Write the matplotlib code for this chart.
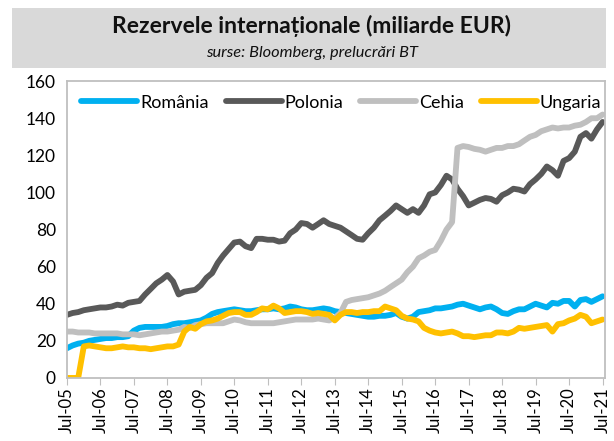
import matplotlib
matplotlib.use('Agg')
import matplotlib.pyplot as plt
import matplotlib.dates as mdates
from matplotlib.patches import Rectangle
import pandas as pd

plt.rcParams['font.family'] = ['Lato', 'DejaVu Sans']

# bimonthly observations, Jul-05 .. Jul-21 (miliarde EUR)
dates = pd.date_range('2005-07-01', periods=97, freq='2MS')

romania = [16, 17.5, 18.5, 19, 20, 20.5,
           21, 21.5, 21.5, 22, 22, 22.5,
           25.5, 27, 27.5, 27.5, 27.5, 27.5,
           28, 29, 29.5, 29.5, 30, 30.5,
           31, 32.5, 34.5, 35.5, 36, 36.5,
           37, 36.5, 36, 36, 36.5, 37,
           37, 37.5, 37, 37.5, 38.5, 38,
           37, 36.5, 36.5, 37, 37.5, 37,
           36, 35.5, 35, 34.5, 34, 33.5,
           33, 33, 33.5, 33.5, 34, 35,
           33, 32, 33, 35.5, 36, 36.5,
           37.5, 37.5, 38, 38.5, 39.5, 40,
           39, 38, 37, 38, 38.5, 37,
           35, 34.5, 36, 37, 37, 38.5,
           40, 39, 38, 40.5, 40, 41.5,
           41.5, 38.5, 42, 42.5, 41, 42.5,
           44]

polonia = [34, 35, 35.5, 36.5, 37, 37.5,
           38, 38, 38.5, 39.5, 39, 40.5,
           41, 41.5, 45, 48, 51, 53,
           55.5, 52, 45, 46.5, 47, 47.5,
           50, 54, 56.5, 62, 66, 69.5,
           73, 73.5, 71, 70, 75, 75,
           74.5, 74.5, 73.5, 74, 78, 80,
           83.5, 83, 81, 83, 85, 83,
           82, 81, 79, 77, 75, 74.5,
           78, 81, 85, 87.5, 90, 93,
           91, 89, 91, 89, 93, 99,
           100, 104, 109, 107, 102, 98,
           93, 94.5, 96, 97, 96.5, 95,
           98.5, 100, 102, 101.5, 100.5, 104.5,
           107, 110, 114, 112, 109, 117,
           118.5, 122, 130, 132, 129, 134,
           138]

cehia = [25, 25, 24.5, 24.5, 24.5, 24,
         24, 24, 24, 24, 23.5, 23.5,
         23.5, 23, 23.5, 24, 24.5, 25,
         25, 25.5, 26, 27.5, 27, 28.5,
         29, 29.5, 29.5, 29.5, 29.5, 30.5,
         31.5, 31, 30, 29.5, 29.5, 29.5,
         29.5, 29.5, 30, 30.5, 31, 31.5,
         31.5, 31.5, 31.5, 32, 31.5, 31,
         32.5, 35, 41, 42, 42.5, 43,
         43.5, 44.5, 45.5, 47, 49, 51,
         53, 57, 60, 64.5, 66, 68,
         69, 74, 80, 84, 124, 125,
         124.5, 123.5, 123, 122, 123, 124,
         124, 125, 125, 126, 128, 130,
         131, 133, 134, 135, 134.5, 135,
         135, 136, 136.5, 138, 140, 140,
         142]

ungaria = [0, 0, 0, 17, 17.5, 17,
           16.5, 16, 16, 16.5, 17, 16.5,
           16.5, 16, 16, 15.5, 16, 16.5,
           17, 17, 18, 25, 27.5, 26.5,
           29, 30.5, 31, 32, 33.5, 35,
           35.5, 35.5, 34, 34, 35.5, 37.5,
           37, 39, 37.5, 35, 35.5, 36,
           36, 35.5, 34.5, 35, 34.5, 34,
           31, 34, 35.5, 35.5, 35, 35.5,
           35.5, 36, 36, 38.5, 37.5, 36.5,
           33.5, 32, 31.5, 30.5, 27, 25.5,
           24.5, 24, 24.5, 25, 24, 22.5,
           22.5, 22, 22.5, 23, 23, 24.5,
           24.5, 24, 25, 27, 26.5, 27,
           27.5, 28, 28.5, 25, 29, 29.5,
           31, 32, 34, 33, 29.5, 30.5,
           31.5]

series = [('România', romania, '#00b0f0'),
          ('Polonia', polonia, '#595959'),
          ('Cehia', cehia, '#bfbfbf'),
          ('Ungaria', ungaria, '#ffc000')]

fig = plt.figure(figsize=(6.14, 4.41), dpi=100)

# title band
fig.patches.append(Rectangle((0.02, 0.846), 0.967, 0.136, transform=fig.transFigure,
                             facecolor='#d9d9d9', edgecolor='none', zorder=0))
fig.text(0.508, 0.94, 'Rezervele internaționale (miliarde EUR)', ha='center', va='center',
         fontsize=16.5, fontweight='bold', color='#111111')
fig.text(0.508, 0.88, 'surse: Bloomberg, prelucrări BT', ha='center', va='center',
         fontsize=11.8, style='italic', color='#111111')

ax = fig.add_axes([0.109, 0.143, 0.876, 0.673])
for name, vals, col in series:
    ax.plot(dates, vals, color=col, lw=4.2, label=name, solid_capstyle='round',
            solid_joinstyle='round')

ax.set_ylim(0, 160)
ax.set_yticks(range(0, 161, 20))
ax.set_xlim(pd.Timestamp('2005-07-01'), pd.Timestamp('2021-07-25'))
ax.xaxis.set_major_locator(mdates.MonthLocator(bymonth=7))
ax.xaxis.set_major_formatter(mdates.DateFormatter('%b-%y'))
ax.tick_params(axis='x', rotation=90, labelsize=12, length=5, color='#bfbfbf', pad=2)
ax.tick_params(axis='y', labelsize=12.5, length=0, pad=8)
for s in ax.spines.values():
    s.set_color('#bfbfbf')
    s.set_linewidth(1.3)

ax.legend(loc='upper center', ncol=4, frameon=False, fontsize=13, handlelength=3.1,
          handletextpad=0.15, columnspacing=0.95, bbox_to_anchor=(0.51, 1.0),
          borderaxespad=0.35)

fig.savefig('out.png', dpi=100)
